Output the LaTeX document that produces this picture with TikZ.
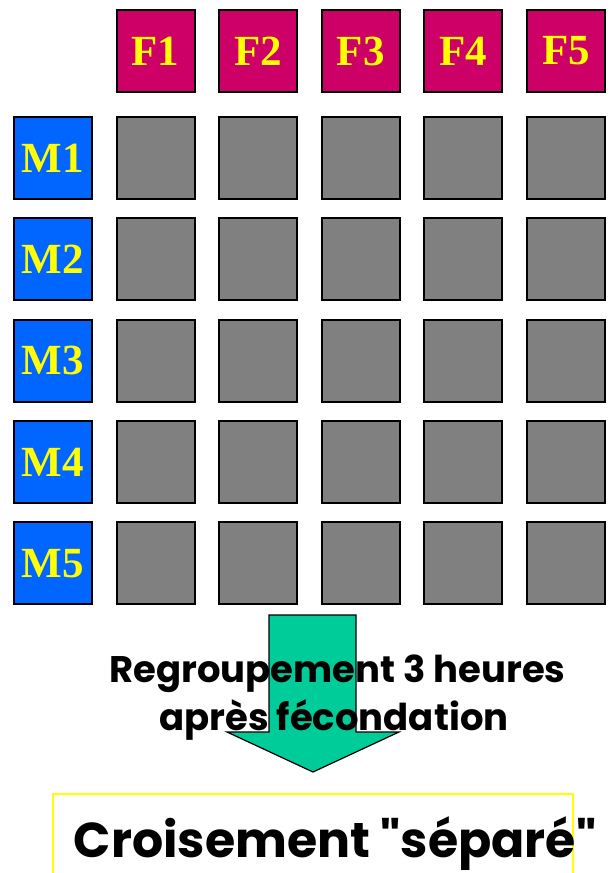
\documentclass[tikz,border=0pt]{standalone}
\usepackage{fontspec}
\setmainfont{Liberation Serif}
\newfontfamily\comic{Poppins}
\definecolor{fmag}{HTML}{CC0066}
\definecolor{mblue}{HTML}{0066FF}
\definecolor{cellgray}{HTML}{808080}
\definecolor{lblyellow}{HTML}{FFFF00}
\definecolor{arrowgreen}{HTML}{00CC99}
\tikzset{
  sq/.style={draw=black, line width=2pt, minimum width=78pt, minimum height=82pt, inner sep=0pt,
    font=\fontsize{43}{43}\selectfont\bfseries, text=lblyellow},
  fbox/.style={sq, fill=fmag},
  mbox/.style={sq, fill=mblue},
  cell/.style={sq, fill=cellgray},
  caption/.style={font=\comic\bfseries\fontsize{37}{37}\selectfont, inner sep=0pt, anchor=base},
}
\begin{document}
\begin{tikzpicture}[x=1pt,y=-1pt]
\useasboundingbox (0,0) rectangle (613,873);
% header females
\foreach \i in {1,...,5} {
  \node[fbox] (F\i) at ({155.5+102.6*(\i-1)},51) {F\i};
}
% males and cells
\foreach \j in {1,...,5} {
  \node[mbox] (M\j) at (53,{158+101.3*(\j-1)}) {M\j};
  \foreach \i in {1,...,5} {
    \node[cell] (C\j\i) at ({155.5+102.6*(\i-1)},{158+101.3*(\j-1)}) {};
  }
}
% arrow
\draw[fill=arrowgreen, draw=black, line width=1.2pt, line join=miter]
  (269,615) -- (356,615) -- (356,732) -- (399,732) -- (313,772) -- (227,732) -- (269,732) -- cycle;
\node[caption] (t1) at (337.5,682) {Regroupement 3 heures};
\node[caption] (t2) at (334,730) {après fécondation};
% bottom box
\draw[lblyellow, line width=1.5pt] (53,880) -- (53,794) -- (573,794) -- (573,880);
\node[font=\comic\bfseries\fontsize{49}{49}\selectfont, inner sep=0pt, anchor=base] (res) at (335,857) {Croisement "séparé"};
\end{tikzpicture}
\end{document}
